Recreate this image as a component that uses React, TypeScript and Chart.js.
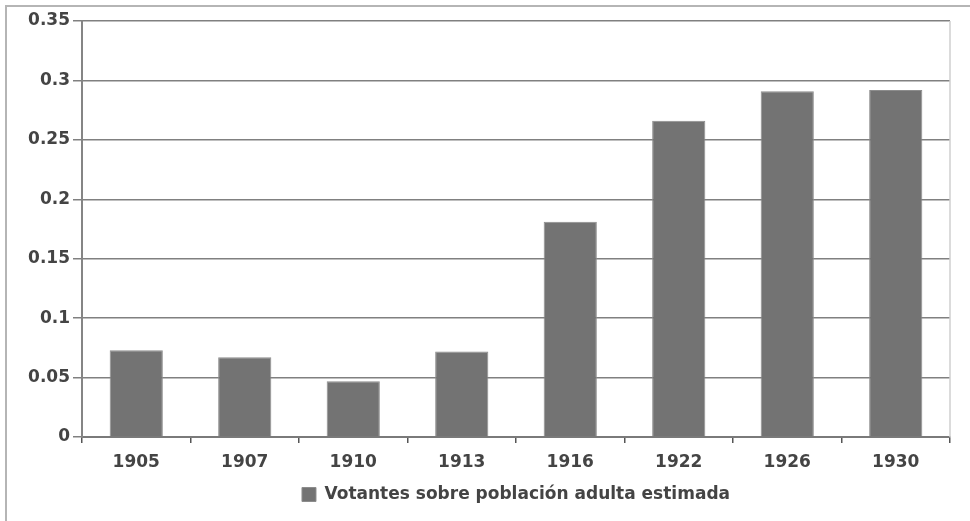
import React, { useEffect, useRef } from "react";
import { Chart, registerables } from "chart.js";

Chart.register(...registerables);

const categories = ["1905", "1907", "1910", "1913", "1916", "1922", "1926", "1930"];
const seriesLabel = "Votantes sobre población adulta estimada";
const seriesValues = [0.073, 0.067, 0.047, 0.072, 0.181, 0.266, 0.291, 0.292];
const yTicks = [0, 0.05, 0.1, 0.15, 0.2, 0.25, 0.3, 0.35];

const FONT = "'DejaVu Sans', 'Open Sans', sans-serif";
const TEXT = "#444444";

const rightBorder = {
  id: "rightBorder",
  afterDraw(chart: any) {
    const { ctx, chartArea } = chart;
    ctx.save();
    ctx.strokeStyle = "#cfcfcf";
    ctx.lineWidth = 1.5;
    ctx.beginPath();
    ctx.moveTo(chartArea.right, chartArea.top);
    ctx.lineTo(chartArea.right, chartArea.bottom);
    ctx.stroke();
    ctx.restore();
  },
};

export default function App() {
  const ref = useRef<HTMLCanvasElement | null>(null);
  useEffect(() => {
    document.body.style.margin = "0";
    const chart = new Chart(ref.current as HTMLCanvasElement, {
      type: "bar",
      data: {
        labels: categories,
        datasets: [
          {
            label: seriesLabel,
            data: seriesValues,
            backgroundColor: "#737373",
            borderColor: "#8c8c8c",
            borderWidth: 1,
            barPercentage: 0.49,
            categoryPercentage: 1,
          },
        ],
      },
      options: {
        animation: false,
        responsive: false,
        layout: { padding: { top: 21, right: 20, left: 0, bottom: 8 } },
        plugins: {
          tooltip: { enabled: false },
          legend: {
            position: "bottom",
            fullSize: false,
            labels: {
              font: { family: FONT, size: 17, weight: "bold" },
              color: TEXT,
              boxWidth: 14,
              boxHeight: 14,
              padding: 10,
            },
          },
        },
        scales: {
          x: {
            offset: true,
            grid: {
              display: true,
              drawOnChartArea: false,
              offset: true,
              tickLength: 6,
              color: "#555",
              lineWidth: 1.5,
            },
            border: { color: "#7a7a7a", width: 2 },
            ticks: { font: { family: FONT, size: 17, weight: "bold" }, color: TEXT, padding: 9 },
            afterFit: (s: any) => {
              s.height = 39;
            },
          },
          y: {
            min: 0,
            max: 0.35,
            afterBuildTicks: (s: any) => {
              s.ticks = yTicks.map((v) => ({ value: v }));
            },
            grid: { color: "#808080", lineWidth: 1.5, tickLength: 9 },
            border: { color: "#858585", width: 2 },
            ticks: {
              font: { family: FONT, size: 17, weight: "bold" },
              color: TEXT,
              padding: 3,
              callback: (v: any) => String(Number(v)),
            },
            afterFit: (s: any) => {
              s.width = 82;
            },
          },
        },
      },
      plugins: [rightBorder],
    });
    return () => chart.destroy();
  }, []);
  return (
    <div style={{ position: "relative", width: 970, height: 521 }}>
      <canvas ref={ref} width={970} height={521} style={{ display: "block" }} />
      <div
        style={{
          position: "absolute",
          left: 5,
          top: 5,
          width: 965,
          height: 516,
          borderLeft: "2px solid #b5b5b5",
          borderTop: "2px solid #b5b5b5",
          pointerEvents: "none",
          boxSizing: "border-box",
        }}
      />
    </div>
  );
}
